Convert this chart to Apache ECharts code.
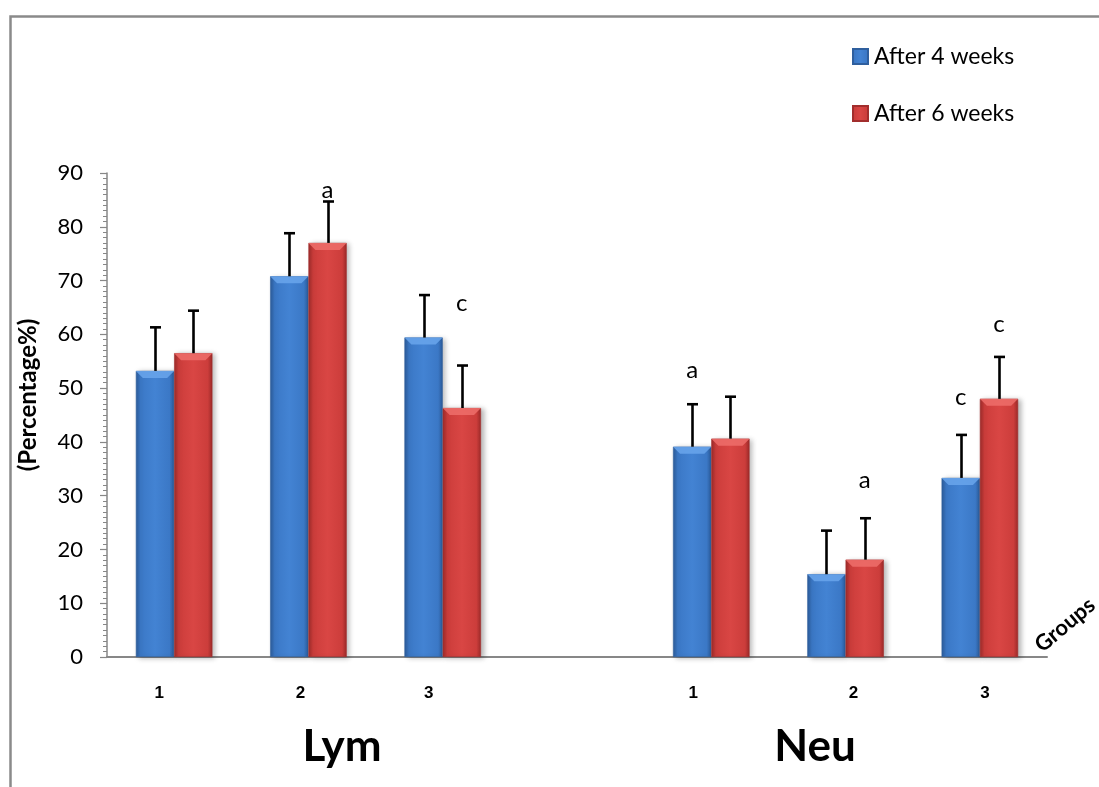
<!DOCTYPE html>
<html>
<head>
<meta charset="utf-8">
<script src="https://cdn.jsdelivr.net/npm/echarts@6/dist/echarts.min.js"></script>
<style>
  html, body { margin: 0; padding: 0; background: #ffffff; }
  #chart { width: 1099px; height: 787px; }
</style>
</head>
<body>
<div id="chart"></div>
<script>
// Group labels along the x axis (an empty slot separates Lym from Neu)
const groups = ['1', '2', '3', '', '1', '2', '3'];
const panelNames = ['Lym', 'Neu'];
const seriesNames = ['After 4 weeks', 'After 6 weeks'];

// Mean percentages
const after4 = [53.2, 70.8, 59.4, null, 39.1, 15.4, 33.3];
const after6 = [56.5, 77.0, 46.3, null, 40.6, 18.1, 48.0];

// Upper error (SD)
const err4 = [8.1, 8.0, 7.9, null, 7.9, 8.1, 8.0];
const err6 = [7.9, 7.7, 7.9, null, 7.8, 7.7, 7.8];

// Significance letters and the value level they sit at
const sig4 = ['', '', '', '', 'a', '', 'c'];
const sig4At = [null, null, null, null, 53.4, null, 48.3];
const sig6 = ['', 'a', 'c', '', '', 'a', 'c'];
const sig6At = [null, 86.8, 65.8, null, null, 32.9, 61.9];

// Y axis range
const yMin = 0, yMax = 90, yStep = 10;

const chart = echarts.init(document.getElementById('chart'));

const FONT = 'Lato, "Open Sans", sans-serif';
const BAR_SHIFT = 0.1425; // half of one bar width as a fraction of a category band

function shaded(light, mid, dark) {
  return new echarts.graphic.LinearGradient(0, 0, 1, 0, [
    { offset: 0, color: dark },
    { offset: 0.12, color: mid },
    { offset: 0.5, color: light },
    { offset: 0.88, color: mid },
    { offset: 1, color: dark }
  ]);
}
const blueFill = shaded('#4383d3', '#3b78c6', '#2b5a98');
const redFill = shaded('#d94644', '#cc3d3b', '#9b2a29');

function errorData(vals, errs) {
  const out = [];
  vals.forEach((v, i) => { if (v != null) out.push([i, v, errs[i]]); });
  return out;
}
function sigData(letters, at) {
  const out = [];
  letters.forEach((t, i) => { if (t) out.push([i, at[i], t]); });
  return out;
}

function errorRenderer(side) {
  return function (params, api) {
    const cat = api.value(0), v = api.value(1), e = api.value(2);
    const band = api.size([1, 0])[0];
    const base = api.coord([cat, v]);
    const top = api.coord([cat, v + e]);
    const x = Math.round(base[0] + side * band * BAR_SHIFT) + 0.5;
    const cap = 5.5;
    const st = { stroke: '#000000', lineWidth: 2.6 };
    return {
      type: 'group',
      children: [
        { type: 'line', shape: { x1: x, y1: base[1], x2: x, y2: top[1] }, style: st },
        { type: 'line', shape: { x1: x - cap, y1: top[1], x2: x + cap, y2: top[1] }, style: st }
      ]
    };
  };
}

function bevelRenderer(side, topColor) {
  // light bevel strip across the top of each bar
  return function (params, api) {
    const cat = api.value(0), v = api.value(1);
    const band = api.size([1, 0])[0];
    const p = api.coord([cat, v]);
    const w = band * BAR_SHIFT * 2;
    const cx = p[0] + side * band * BAR_SHIFT;
    const x0 = cx - w / 2, x1 = cx + w / 2, h = 7;
    return {
      type: 'polygon',
      shape: { points: [[x0, p[1]], [x1, p[1]], [x1 - h, p[1] + h], [x0 + h, p[1] + h]] },
      style: { fill: topColor, opacity: 0.85 }
    };
  };
}

function sigRenderer(side) {
  return function (params, api) {
    const cat = api.value(0), lvl = api.value(1);
    const band = api.size([1, 0])[0];
    const p = api.coord([cat, lvl]);
    return {
      type: 'text',
      x: p[0] + side * band * BAR_SHIFT,
      y: p[1],
      style: {
        text: api.value(2),
        fontFamily: FONT,
        fontSize: 24,
        fill: '#000000',
        align: 'center',
        verticalAlign: 'middle'
      }
    };
  };
}

// small per-label shifts for the group numbers under the axis
const labelShift = [-15, -8, -14, 0, -18, 8, 5];
const richLabels = {};
labelShift.forEach((s, i) => {
  richLabels['g' + i] = {
    fontFamily: '"Liberation Sans", Arial, sans-serif',
    fontWeight: 'bold',
    fontSize: 17,
    color: '#000000',
    padding: s < 0 ? [0, -2 * s, 0, 0] : [0, 0, 0, 2 * s]
  };
});

const option = {
  backgroundColor: '#ffffff',
  animation: false,
  grid: { left: 107, right: 52, top: 173, bottom: 130, containLabel: false },
  legend: {
    data: seriesNames,
    orient: 'vertical',
    left: 847,
    top: 40,
    itemGap: 34,
    itemWidth: 15,
    itemHeight: 15,
    icon: 'rect',
    textStyle: { fontFamily: FONT, fontSize: 23, color: '#000000', padding: [0, 0, 0, 1] }
  },
  xAxis: {
    type: 'category',
    data: groups,
    axisLine: { show: true, lineStyle: { color: '#878787', width: 2 } },
    axisTick: { show: false },
    axisLabel: {
      margin: 28,
      interval: 0,
      fontFamily: '"Liberation Sans", Arial, sans-serif',
      fontWeight: 'bold',
      fontSize: 17,
      color: '#000000',
      formatter: (v, i) => v ? '{g' + i + '|' + v + '}' : '',
      rich: richLabels
    },
    splitLine: { show: false }
  },
  yAxis: {
    type: 'value',
    min: yMin,
    max: yMax,
    interval: yStep,
    axisLine: { show: true, lineStyle: { color: '#878787', width: 1.5 } },
    axisTick: { show: true, inside: false, length: 7, lineStyle: { color: '#878787', width: 1.2 } },
    minorTick: { show: true, splitNumber: 10, length: 4, lineStyle: { color: '#878787', width: 1 } },
    axisLabel: { margin: 24, fontFamily: FONT, fontSize: 22, color: '#000000' },
    splitLine: { show: false }
  },
  series: [
    {
      name: seriesNames[0],
      type: 'bar',
      data: after4,
      barGap: '0%',
      barCategoryGap: '43%',
      itemStyle: {
        color: blueFill,
        borderColor: '#2f5f9e',
        borderWidth: 0.6,
        shadowColor: 'rgba(0,0,0,0.28)',
        shadowBlur: 5,
        shadowOffsetX: 3,
        shadowOffsetY: 1
      }
    },
    {
      name: seriesNames[1],
      type: 'bar',
      data: after6,
      barGap: '0%',
      barCategoryGap: '43%',
      itemStyle: {
        color: redFill,
        borderColor: '#a22e2d',
        borderWidth: 0.6,
        shadowColor: 'rgba(0,0,0,0.28)',
        shadowBlur: 5,
        shadowOffsetX: 3,
        shadowOffsetY: 1
      }
    },
    { type: 'custom', renderItem: bevelRenderer(-1, '#6aa6ec'), data: errorData(after4, err4), z: 3, silent: true },
    { type: 'custom', renderItem: bevelRenderer(1, '#ef6e6b'), data: errorData(after6, err6), z: 3, silent: true },
    { type: 'custom', renderItem: errorRenderer(-1), data: errorData(after4, err4), z: 4, silent: true },
    { type: 'custom', renderItem: errorRenderer(1), data: errorData(after6, err6), z: 4, silent: true },
    { type: 'custom', renderItem: sigRenderer(-1), data: sigData(sig4, sig4At), z: 5, silent: true },
    { type: 'custom', renderItem: sigRenderer(1), data: sigData(sig6, sig6At), z: 5, silent: true }
  ],
  graphic: [
    {
      type: 'rect',
      left: 8, top: 14,
      shape: { x: 0, y: 0, width: 1200, height: 900 },
      style: { fill: 'none', stroke: '#8a8a8a', lineWidth: 2.5 },
      silent: true, z: -10
    },
    {
      type: 'text',
      x: 28, y: 395,
      rotation: Math.PI / 2,
      style: {
        text: '(Percentage%)',
        fontFamily: FONT,
        fontWeight: 'bold',
        fontSize: 24,
        fill: '#000000',
        align: 'center',
        verticalAlign: 'middle'
      }
    },
    {
      type: 'text',
      x: 1065, y: 625,
      rotation: 40 * Math.PI / 180,
      style: {
        text: 'Groups',
        fontFamily: FONT,
        fontWeight: 'bold',
        fontSize: 22,
        fill: '#000000',
        align: 'center',
        verticalAlign: 'middle'
      }
    },
    {
      type: 'text',
      x: 342, y: 747,
      style: {
        text: panelNames[0],
        fontFamily: FONT,
        fontWeight: 'bold',
        fontSize: 44,
        fill: '#000000',
        align: 'center',
        verticalAlign: 'middle'
      }
    },
    {
      type: 'text',
      x: 815, y: 747,
      style: {
        text: panelNames[1],
        fontFamily: FONT,
        fontWeight: 'bold',
        fontSize: 44,
        fill: '#000000',
        align: 'center',
        verticalAlign: 'middle'
      }
    }
  ]
};

chart.setOption(option);
</script>
</body>
</html>
